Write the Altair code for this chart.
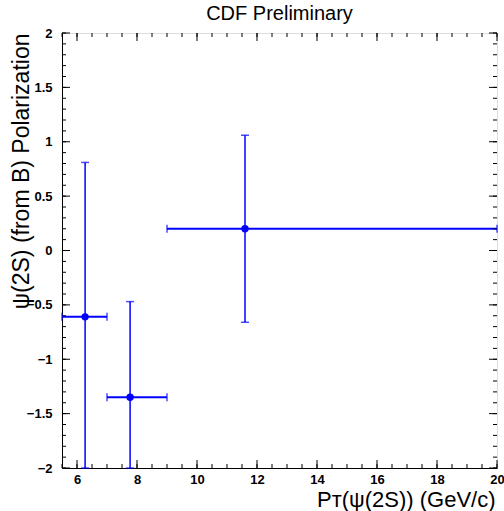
import altair as alt
import pandas as pd
import numpy as np

# ---- data ----
pt = [6.27, 7.77, 11.6]
pt_lo = [5.5, 7.0, 9.0]
pt_hi = [7.0, 9.0, 20.0]
pol = [-0.61, -1.35, 0.2]
pol_lo = [-2.0, -2.0, -0.66]
pol_hi = [0.81, -0.47, 1.06]

x_major = [6, 8, 10, 12, 14, 16, 18, 20]
x_minor = [round(v, 1) for v in np.arange(5.5, 20.01, 0.5)]
y_major = [-2, -1.5, -1, -0.5, 0, 0.5, 1, 1.5, 2]
y_minor = [round(v, 1) for v in np.arange(-2.0, 2.001, 0.1)]

W, H = 435, 435
BLUE = "#0000ff"
FONT = "Liberation Sans"

df = pd.DataFrame(dict(pt=pt, pt_lo=pt_lo, pt_hi=pt_hi, pol=pol, pol_lo=pol_lo, pol_hi=pol_hi))

xs = alt.Scale(domain=[5.5, 20], nice=False, zero=False)
ys = alt.Scale(domain=[-2, 2], nice=False, zero=False)

xaxis = alt.Axis(values=x_major, format="~g", ticks=False, tickSize=0, grid=False,
                 labelFont=FONT, labelFontSize=13, labelFontWeight="bold", labelColor="black",
                 labelPadding=5, domainColor="black", labelFlush=False,
                 title="P\u1d1b(\u03c8(2S)) (GeV/c)", titleFont=FONT, titleFontSize=22,
                 titleFontWeight="normal", titleColor="black", titleX=433, titleY=38,
                 titleAlign="right", titleBaseline="alphabetic")
yaxis = alt.Axis(values=y_major, format="~g", ticks=False, tickSize=0, grid=False,
                 labelFont=FONT, labelFontSize=13, labelFontWeight="bold", labelColor="black",
                 labelPadding=10, domainColor="black", labelFlush=False,
                 title="\u03c8(2S) (from B) Polarization", titleFont=FONT, titleFontSize=23,
                 titleFontWeight="normal", titleColor="black", titleX=-34, titleY=0,
                 titleAngle=270, titleAlign="right", titleBaseline="alphabetic")


def X(f):
    return alt.X(f, scale=xs, axis=xaxis)


def Y(f):
    return alt.Y(f, scale=ys, axis=yaxis)


base = alt.Chart(df)
xbar = base.mark_rule(color=BLUE, strokeWidth=2).encode(
    x=X("pt_lo:Q"), x2="pt_hi:Q", y=Y("pol:Q"))
ybar = base.mark_rule(color=BLUE, strokeWidth=1.5).encode(
    x=X("pt:Q"), y=Y("pol_lo:Q"), y2="pol_hi:Q")
cap_hi = base.mark_tick(color=BLUE, orient="horizontal", size=8, thickness=1.5).encode(
    x=X("pt:Q"), y=Y("pol_hi:Q"))
cap_lo = base.mark_tick(color=BLUE, orient="horizontal", size=8, thickness=1.5).encode(
    x=X("pt:Q"), y=Y("pol_lo:Q"))
cap_l = base.mark_tick(color=BLUE, orient="vertical", size=8, thickness=1.5).encode(
    x=X("pt_lo:Q"), y=Y("pol:Q"))
cap_r = base.mark_tick(color=BLUE, orient="vertical", size=8, thickness=1.5).encode(
    x=X("pt_hi:Q"), y=Y("pol:Q"))
dots = base.mark_circle(color=BLUE, opacity=1, size=55).encode(
    x=X("pt:Q"), y=Y("pol:Q"))


def ytick_layers(vals, L):
    d = alt.Chart(pd.DataFrame({"v": vals}))
    left = d.mark_rule(color="black", strokeWidth=1).encode(
        y=Y("v:Q"), x=alt.value(0), x2=alt.value(L))
    right = d.mark_rule(color="black", strokeWidth=1).encode(
        y=Y("v:Q"), x=alt.value(W), x2=alt.value(W - L))
    return [left, right]


def xtick_layers(vals, L):
    d = alt.Chart(pd.DataFrame({"v": vals}))
    bottom = d.mark_rule(color="black", strokeWidth=1).encode(
        x=X("v:Q"), y=alt.value(H), y2=alt.value(H - L))
    top = d.mark_rule(color="black", strokeWidth=1).encode(
        x=X("v:Q"), y=alt.value(0), y2=alt.value(L))
    return [bottom, top]


layers = [xbar] + ytick_layers(y_minor, 4) + ytick_layers(y_major, 8) \
    + xtick_layers(x_minor, 4) + xtick_layers(x_major, 8) \
    + [ybar, cap_hi, cap_lo, cap_l, cap_r, dots]

chart = alt.layer(*layers).properties(
    width=W, height=H,
    title=alt.TitleParams("CDF Preliminary", font=FONT, fontSize=20, fontWeight="normal",
                          color="black", anchor="middle", offset=3),
    padding={"left": 62, "top": 33, "right": 7, "bottom": 43},
    autosize=alt.AutoSizeParams(type="none"),
).configure_view(stroke="black", strokeWidth=1).configure(background="white")

chart.save("out.html", embed_options={"renderer": "svg", "actions": False})
